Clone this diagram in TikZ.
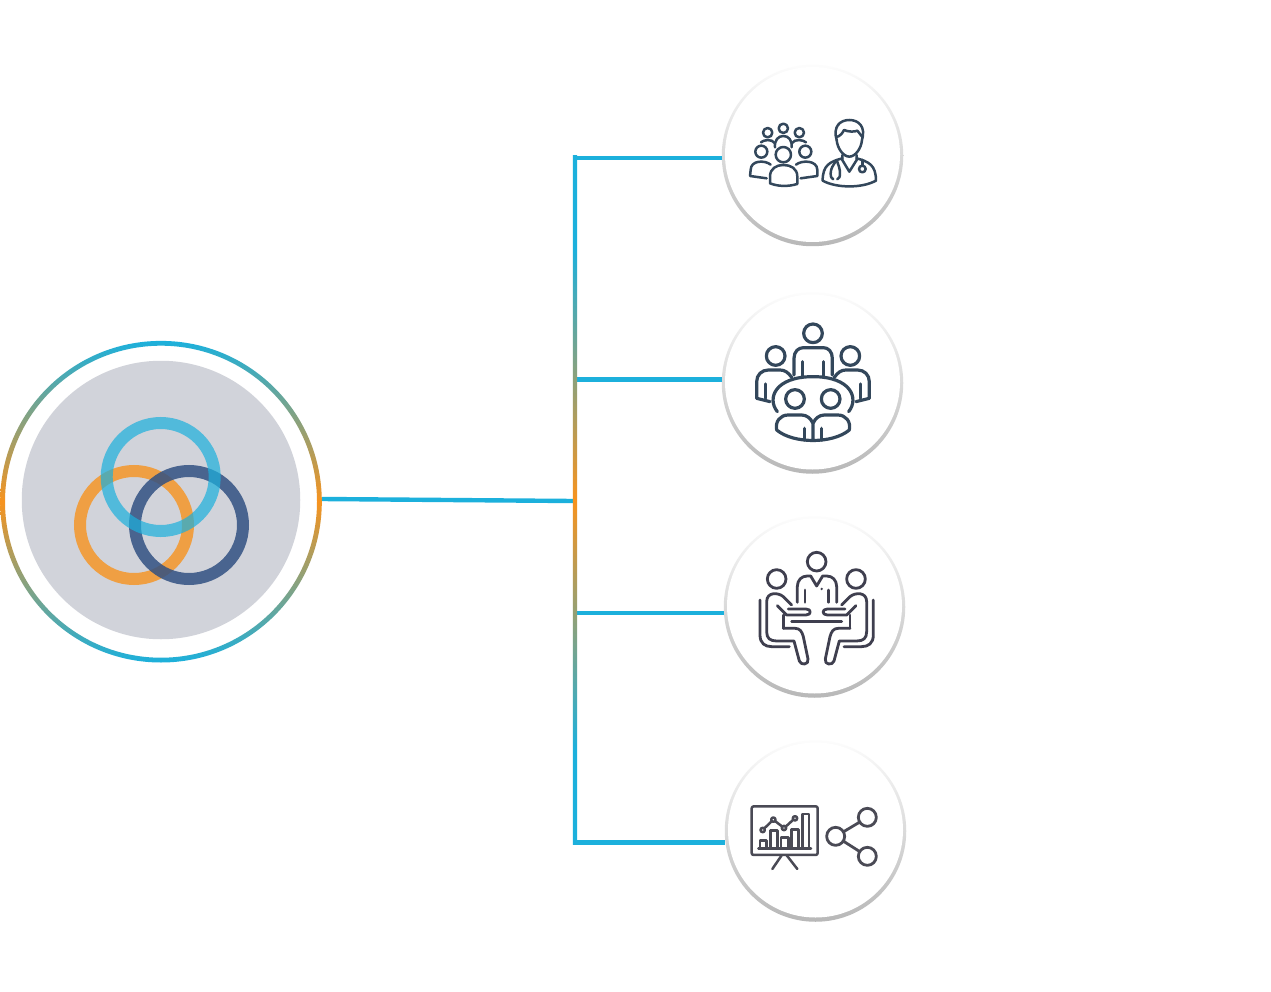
\documentclass[tikz,border=0pt]{standalone}
\definecolor{lnk}{HTML}{1CB0DC}
\definecolor{org}{HTML}{F7931E}
\definecolor{ringdark}{HTML}{325182}
\definecolor{hubgrey}{HTML}{D1D3DA}
\definecolor{icona}{HTML}{33475B}
\definecolor{iconb}{HTML}{3F3F4F}
\definecolor{iconc}{HTML}{4A4A55}
\pgfdeclareverticalshading{trunkgrad}{100bp}{color(0bp)=(lnk);color(31.9bp)=(lnk);color(50bp)=(org);color(68.2bp)=(lnk);color(100bp)=(lnk)}
\tikzset{
  ringnode/.style={circle,inner sep=0pt,minimum size=108pt,line width=12pt,draw=#1},
  cardedge/.style={circle,inner sep=0pt,minimum size=181.5pt,shade,top color=black!1,bottom color=black!28},
  cardface/.style={circle,inner sep=0pt,minimum size=175pt,fill=white},
  link/.style={draw=lnk,line width=4.4pt},
  iconscope/.style={line width=2.4pt,line cap=round,line join=round,x=.3333pt,y=-.3333pt},
}
\begin{document}
\begin{tikzpicture}[x=1pt,y=-1pt]
\useasboundingbox (0,0) rectangle (1271,992);
\fill[white] (0,0) rectangle (1271,992);
% hub
\node[circle,inner sep=0pt,minimum size=321pt] (hub) at (161,501.7) {};
\shade[top color=lnk,bottom color=lnk,middle color=org,even odd rule]
  (hub.center) circle (160.8) (hub.center) circle (156);
\node[circle,inner sep=0pt,minimum size=278.5pt,fill=hubgrey] (hubdisc) at (161,500) {};
\node[ringnode=org,draw opacity=.8] (ro) at (134,525) {};
\node[ringnode=ringdark,draw opacity=.85] (rd) at (189,525) {};
\node[ringnode=lnk,draw opacity=.7] (rb) at (160.7,477) {};
% cards
\node[cardedge] (a) at (812.5,155.5) {};
\node[cardface] (af) at (812.5,154.5) {};
\node[cardedge] (b) at (812.5,383) {};
\node[cardface] (bf) at (812.5,382) {};
\node[cardedge] (c) at (814.5,607) {};
\node[cardface] (cf) at (814.5,606) {};
\node[cardedge] (d) at (815.5,831) {};
\node[cardface] (df) at (815.5,830) {};
% connectors
\coordinate (hubout) at (322,499);
\coordinate (junction) at (573,501);
\coordinate (t1) at (575,158);
\coordinate (t2) at (575,379.5);
\coordinate (t3) at (575,613);
\coordinate (t4) at (575,842.5);
\draw[link] (hubout) -- (junction);
\draw[link] (t1) -- (a.west |- t1);
\draw[link] (t2) -- (b.west |- t2);
\draw[link] (t3) -- (c.west |- t3);
\draw[link] (t4) -- (d.west |- t4);
\shade[shading=trunkgrad] ([xshift=-2.2pt,yshift=2.2pt]t1) rectangle ([xshift=2.2pt,yshift=-2.2pt]t4);
% icon 1
\begin{scope}[shift={(720,60)},iconscope,draw=icona,line width=2.5pt]
\draw (143,218) circle (14) (190,205) circle (14) (238,218) circle (14);
\draw (123,247) .. controls (130,240) and (155,235) .. (165,250);
\draw (165,262) .. controls (163,240) and (175,228) .. (190,228) .. controls (205,228) and (217,240) .. (215,262);
\draw (215,250) .. controls (225,235) and (250,240) .. (258,247);
\draw (124,275) circle (18) (256,275) circle (18) (190,284) circle (23);
\draw (152,314) .. controls (135,300) and (92,300) .. (92,330) -- (90,348) -- (140,355);
\draw (228,314) .. controls (245,300) and (292,300) .. (292,330) -- (292,348) -- (242,355);
\draw (150,370) -- (150,350) .. controls (150,325) and (170,315) .. (190,315) .. controls (212,315) and (232,325) .. (232,350) -- (232,372) .. controls (205,380) and (175,380) .. (150,370) -- cycle;
% doctor
\draw (350,240) .. controls (338,200) and (360,180) .. (388,180) .. controls (416,180) and (438,200) .. (426,240);
\draw (348,232) .. controls (362,228) and (368,218) .. (372,210) .. controls (385,216) and (405,216) .. (412,212) .. controls (418,218) and (422,226) .. (428,232);
\draw (350,240) .. controls (352,265) and (370,290) .. (388,290) .. controls (406,290) and (424,265) .. (426,240);
\draw (367,285) -- (367,300) -- (388,335) -- (410,300) -- (410,285);
\draw (367,295) .. controls (330,305) and (308,315) .. (308,362) .. controls (350,385) and (426,385) .. (468,362) .. controls (468,315) and (446,305) .. (410,295);
\draw (350,300) .. controls (340,315) and (332,325) .. (332,340) .. controls (332,350) and (334,356) .. (340,358);
\draw (350,300) .. controls (355,315) and (360,325) .. (360,340) .. controls (360,350) and (358,356) .. (352,358);
\draw (427,300) -- (427,316);
\draw (427,327) circle (10);
\end{scope}
% icon 2
\begin{scope}[shift={(720,290)},iconscope,draw=icona,line width=3.2pt]
\draw (279,130) circle (28) (167,198) circle (28) (391,198) circle (28) (225,327) circle (28) (332,327) circle (28);
\draw (222,255) -- (222,205) .. controls (222,185) and (235,173) .. (250,173) -- (310,173) .. controls (325,173) and (337,185) .. (337,205) -- (337,255);
\draw (247,215) -- (247,258) (311,215) -- (311,258);
\draw (172,365) .. controls (140,325) and (165,260) .. (279,260) .. controls (393,260) and (418,325) .. (386,365);
\draw (215,262) .. controls (205,248) and (195,240) .. (180,240) -- (145,240) .. controls (125,240) and (110,255) .. (110,275) -- (110,325) -- (150,335);
\draw (343,262) .. controls (353,248) and (363,240) .. (378,240) -- (413,240) .. controls (433,240) and (448,255) .. (448,275) -- (448,325) -- (408,335);
\draw (136,282) -- (136,325) (422,282) -- (422,325);
\draw (279,400) .. controls (272,385) and (260,375) .. (245,375) -- (205,375) .. controls (180,375) and (165,395) .. (170,420) .. controls (220,462) and (338,462) .. (388,420) .. controls (393,395) and (378,375) .. (353,375) -- (313,375) .. controls (298,375) and (286,385) .. (279,400) -- (279,450);
\draw (253,415) -- (253,450) (305,415) -- (305,450);
\end{scope}
% icon 3
\begin{scope}[shift={(720,515)},iconscope,draw=iconb,line width=2.8pt]
\draw (290,140) circle (28) (170,192) circle (28) (408,192) circle (28);
\draw (232,262) -- (232,215) .. controls (232,195) and (245,183) .. (262,183) -- (272,183) -- (290,213) -- (308,183) -- (320,183) .. controls (337,183) and (350,195) .. (350,215) -- (350,262);
\draw (255,225) -- (255,262) (325,225) -- (325,262);
\fill[iconb] (305,222) circle (4);
\draw (215,320) -- (365,320);
\draw (190,300) -- (190,340) (390,300) -- (390,340);
\foreach \m/\s in {0/1,580/-1}{
\begin{scope}[shift={(\m,0)},xscale=\s]
\draw (120,255) -- (120,360) .. controls (120,385) and (135,395) .. (155,395) -- (208,395);
\draw (215,270) -- (190,245) .. controls (175,232) and (140,230) .. (140,260) -- (140,350) .. controls (140,370) and (150,378) .. (170,378) -- (222,378) -- (238,438) .. controls (242,452) and (268,450) .. (264,432) -- (250,365) .. controls (246,350) and (240,340) .. (225,340) -- (190,340);
\draw (172,272) -- (200,300) -- (258,300) .. controls (275,300) and (275,282) .. (258,282) -- (205,282);
\end{scope}}
\end{scope}
% icon 4
\begin{scope}[shift={(720,738)},iconscope,draw=iconc,line width=2.5pt]
\draw[rounded corners=2pt] (95,205) rectangle (293,351);
\draw (185,352) -- (157,393) (200,352) -- (232,393);
\draw (115,331) -- (273,331);
\draw (120,331) -- (120,308) -- (140,308) -- (140,331);
\draw (152,331) -- (152,278) -- (172,278) -- (172,331);
\draw (183,331) -- (183,298) -- (205,298) -- (205,331);
\draw (215,331) -- (215,275) -- (235,275) -- (235,331);
\draw (247,331) -- (247,228) -- (267,228) -- (267,331);
\draw (128,276) circle (6.5) (160,245) circle (6.5) (192,270) circle (6.5) (225,241) circle (6.5);
\draw (133,271) -- (155,250) (165,249) -- (187,266) (197,266) -- (220,245);
\draw[line width=2.8pt] (347,295) circle (27) (442,238) circle (27) (442,355) circle (27);
\draw[line width=2.8pt] (371,281) -- (418,253) (371,310) -- (418,340);
\end{scope}
\end{tikzpicture}
\end{document}
